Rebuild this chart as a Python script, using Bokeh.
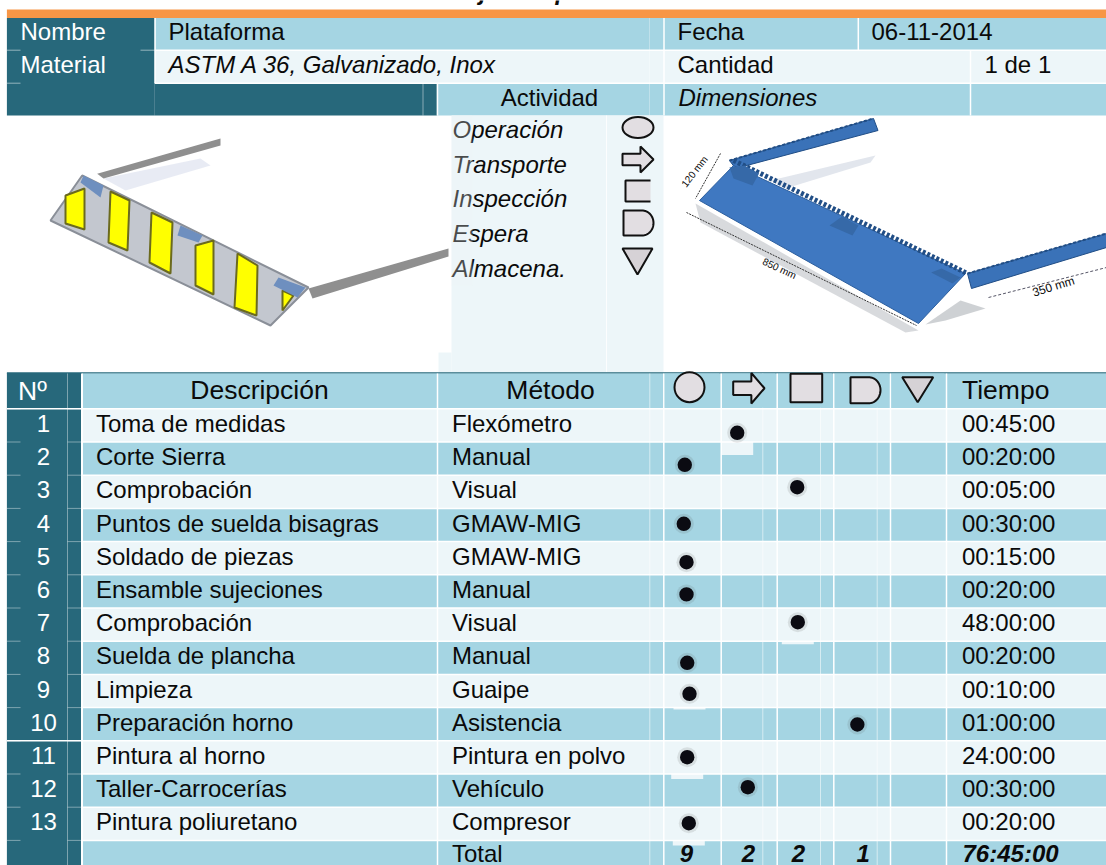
from bokeh.plotting import figure
from bokeh.models import Range1d
from bokeh.core.properties import value
from bokeh.embed import file_html
from bokeh.resources import INLINE
import math

# ---------- chart content ----------
title = "Hoja de operaciones"
head_labels = ["Nombre", "Material"]
head_values = ["Plataforma", "ASTM A 36, Galvanizado, Inox"]
head_right = ["Fecha", "Cantidad", "Dimensiones"]
head_far = ["06-11-2014", "1 de 1"]
activity_title = "Actividad"
legend_labels = ["Operación", "Transporte", "Inspección", "Espera", "Almacena."]
col_heads = ["Nº", "Descripción", "Método", "Tiempo"]
numbers = ["1", "2", "3", "4", "5", "6", "7", "8", "9", "10", "11", "12", "13"]
descriptions = ["Toma de medidas", "Corte Sierra", "Comprobación", "Puntos de suelda bisagras",
                "Soldado de piezas", "Ensamble sujeciones", "Comprobación", "Suelda de plancha",
                "Limpieza", "Preparación horno", "Pintura al horno", "Taller-Carrocerías",
                "Pintura poliuretano"]
methods = ["Flexómetro", "Manual", "Visual", "GMAW-MIG", "GMAW-MIG", "Manual", "Visual", "Manual",
           "Guaipe", "Asistencia", "Pintura en polvo", "Vehículo", "Compresor"]
times = ["00:45:00", "00:20:00", "00:05:00", "00:30:00", "00:15:00", "00:20:00", "48:00:00",
         "00:20:00", "00:10:00", "01:00:00", "24:00:00", "00:30:00", "00:20:00"]
activity = [1, 0, 2, 0, 0, 0, 2, 0, 0, 3, 0, 1, 0]
total_label = "Total"
total_counts = ["9", "2", "2", "1", ""]
total_time = "76:45:00"
dim_labels = ["120 mm", "850 mm", "350 mm"]

# ---------- layout (page pixels) ----------
DARK, LIGHT, PALE, ORANGE = "#27687B", "#A5D5E3", "#EDF6F9", "#F79646"
FONT = value("Liberation Sans")
FS = "24px"
TOP = 408.3
PITCH = 33.2
COL_EDGES = [663.3, 720.7, 776.7, 833.3, 890.0, 946.0]
FAINT = [649.3, 762.3, 820.0, 876.7]
DOT_DX = [-12, -7.7, -8.3, -8.7, -6, -6, -7.7, -5.3, -3, -4.8, -5.3, -1.4, -3.7]
DOT_DY = [7.4, 6.2, -4.6, -1.2, 4, 3, -2.4, 5, 2.8, 0.3, -0.2, -3.4, -0.6]
BLEED = [13, 0, 0, 0, 0, 0, 3, 0, 2, 0, 5, 0, 5]

p = figure(width=1106, height=865, x_range=Range1d(0, 1106), y_range=Range1d(865, 0),
           output_backend="svg", toolbar_location=None, min_border=0,
           background_fill_color="white", border_fill_color="white")
p.axis.visible = False
p.grid.visible = False
p.outline_line_color = None


def box(x0, x1, y0, y1, color, alpha=1.0):
    p.quad(left=x0, right=x1, top=y0, bottom=y1, fill_color=color, fill_alpha=alpha, line_color=None)


def poly(pts, color, alpha=1.0, line=None, lw=1):
    p.patch([a for a, _ in pts], [b for _, b in pts], fill_color=color, fill_alpha=alpha,
            line_color=line, line_width=lw)


def vline(x, y0, y1, color="white", w=1.5, alpha=1.0, dash="solid"):
    p.line([x, x], [y0, y1], line_color=color, line_width=w, line_alpha=alpha, line_dash=dash)


def hline(x0, x1, y, color="white", w=1.5, alpha=1.0):
    p.line([x0, x1], [y, y], line_color=color, line_width=w, line_alpha=alpha)


def label(x, y, s, size=FS, style="normal", color="#0A0A0A", align="left", angle=0.0):
    p.text(x=[x - 1], y=[y - 1], text=[s], text_font=FONT, text_font_size=value(size),
           text_font_style=style, text_color=color, text_align=align,
           text_baseline="middle", angle=angle)


# ---------- title + orange band ----------
p.text(x=[447], y=[-9], text=[title], text_font=FONT, text_font_size=value("24px"),
       text_font_style="bold italic", text_color="#0A0A0A", text_baseline="alphabetic")
box(6.4, 1106, 9, 17.5, ORANGE)

# ---------- top block ----------
box(6.4, 154.3, 17.5, 115, DARK)
box(154.3, 436.4, 82.7, 115, DARK)
box(154.3, 1106, 17.5, 49.7, LIGHT)
box(154.3, 1106, 49.7, 82.7, PALE)
box(436.4, 1106, 82.7, 115, LIGHT)
hline(154.3, 1106, 49.7)
hline(154.3, 1106, 82.7)
hline(6.4, 20, 49.7, w=1, alpha=.5)
hline(6.4, 20, 82.7, w=1, alpha=.5)
hline(140, 154.3, 49.7, w=1, alpha=.5)
vline(154.6, 17.5, 82.7)
vline(437, 82.7, 115)
vline(422.5, 82.7, 115, w=1, alpha=.45)
vline(649, 17.5, 115, w=1, alpha=.3)
vline(663.5, 17.5, 115)
vline(857.8, 17.5, 49.7)
vline(970, 49.7, 115)
label(21, 32, head_labels[0], color="white")
label(21, 64.5, head_labels[1], color="white")
label(169, 32, head_values[0])
label(169, 64.5, head_values[1], style="italic")
label(678, 32, head_right[0])
label(678, 64.5, head_right[1])
label(679, 97.5, head_right[2], style="italic")
label(872, 32, head_far[0])
label(985, 64.5, head_far[1])
label(550, 97.5, activity_title, align="center")

# ---------- legend column ----------
box(451, 663, 115, 372, PALE)
box(438, 451, 352, 372, PALE)
vline(606, 115, 372, w=1, alpha=.8)
for i, txt in enumerate(legend_labels):
    label(453, [130, 165, 199, 234, 269][i], txt, style="italic")
box(451, 472, 115, 285, "#EDF6F9", .28)


def icon_circle(cx, cy, rx, ry):
    p.ellipse(x=[cx], y=[cy], width=[2 * rx], height=[2 * ry], fill_color="#E2DEE2",
              line_color="#111111", line_width=2)


def icon_arrow(x0, x1, y0, y1):
    my, h, s = (y0 + y1) / 2, (y1 - y0), x0 + (x1 - x0) * .58
    poly([(x0, my - h * .22), (s, my - h * .22), (s, y0), (x1, my), (s, y1), (s, my + h * .22),
          (x0, my + h * .22)], "#E2DEE2", line="#111111", lw=2)


def icon_d(x0, x1, y0, y1):
    r = (y1 - y0) / 2
    pts = [(x0, y0), (x1 - r * .9, y0)]
    pts += [(x1 - r * .9 + r * .9 * math.cos(a / 10), (y0 + y1) / 2 + r * math.sin(a / 10))
            for a in range(-15, 16)]
    pts += [(x1 - r * .9, y1), (x0, y1)]
    poly(pts, "#E2DEE2", line="#111111", lw=2)


def icon_tri(x0, x1, y0, y1):
    poly([(x0, y0), (x1, y0), ((x0 + x1) / 2, y1)], "#D6D2D6", line="#111111", lw=2)


icon_circle(637.5, 127, 15.5, 10.5)
icon_arrow(622, 653, 146, 172)
box(625, 650, 180, 201, "#E2DEE2")
p.line([650, 625, 625, 650], [180, 180, 201, 201], line_color="#111111", line_width=2)
icon_d(623, 653, 210, 235)
icon_tri(622, 652, 248, 274)

# ---------- left illustration (yellow panel) ----------
poly([(103, 178), (200, 158), (210, 165), (125, 190)], "#D8DEEC", .6)
poly([(96.7, 173.3), (220, 138), (220, 145), (103, 178)], "#8F8F8F")
poly([(50, 220), (81.7, 175), (308, 287), (270, 325)], "#C3C7CF", line="#8A8F98", lw=2)
Y = "#FFFF00"
E = "#6B6A1E"
for s in [[(65, 195), (84, 188), (84, 229), (65, 223)],
          [(110, 191), (129, 200), (127, 250), (108, 242)],
          [(151, 212), (172, 222), (170, 273), (149, 262)],
          [(195, 245), (213, 240), (213, 294), (195, 285)],
          [(237, 253), (257, 265), (256, 315), (234, 307)],
          [(282, 290), (293, 295), (282, 310)]]:
    poly(s, Y, line=E, lw=2)
for s in [[(80, 182), (83, 175), (103, 185), (100, 197)],
          [(177, 235), (180, 225), (202, 235), (198, 242)],
          [(273, 285), (278, 277), (305, 287), (297, 297)]]:
    poly(s, "#6E8FBF")
poly([(308, 288), (448, 248), (448, 256), (312, 298)], "#8F8F8F")

# ---------- right illustration (blue panel) ----------
poly([(695, 203), (918, 330), (905, 332), (700, 222)], "#9EA3AA", .4)
poly([(925, 324), (960, 300), (985, 308), (945, 320)], "#9EA3AA", .5)
poly([(770, 180), (875, 155), (870, 162), (785, 188)], "#C6CEDB", .5)
poly([(729, 160), (873, 118), (877.5, 130), (735, 168)], "#3A72B8", line="#214E86")
poly([(733, 165), (965, 273), (918, 323), (699, 200)], "#3F78C1", line="#2B5E9E")
p.line([733, 967], [160, 273], line_color="#214E86", line_width=5, line_dash="3 2")
poly([(729, 167), (744, 165), (758.6, 173), (752, 185), (733, 178)], "#3669A8")
poly([(829, 225), (841.5, 216), (858, 225), (852, 235)], "#3669A8")
poly([(930.6, 272), (941, 268), (960, 277), (952, 283)], "#3669A8")
poly([(967, 273), (1106, 233), (1106, 247), (971, 288)], "#3A72B8", line="#214E86")
p.line([729, 873], [160, 118], line_color="#214E86", line_width=2, line_dash="3 2")
p.line([967, 1106], [273, 233], line_color="#214E86", line_width=2, line_dash="3 2")
p.line([686, 916], [212, 325], line_color="#333333", line_width=1, line_dash="2 1")
p.line([720, 695], [153, 198], line_color="#333333", line_width=1, line_dash="2 1")
p.line([988, 1106], [297, 267], line_color="#555566", line_width=1, line_dash="3 2")
label(695, 172, dim_labels[0], size="10px", align="center", angle=math.radians(52))
label(780, 269, dim_labels[1], size="10px", align="center", angle=math.radians(-25))
label(1054, 287, dim_labels[2], size="12px", align="center", angle=math.radians(17))

# ---------- table ----------
box(6.4, 81.7, 372.5, 865, DARK)
hline(6.4, 1106, 372.5, color=DARK, w=1.5)
box(81.7, 1106, 373, TOP, LIGHT)
n = len(numbers)
for i in range(n + 1):
    y0 = TOP + PITCH * i
    y1 = min(y0 + PITCH, 865)
    box(81.7, 1106, y0, y1, (PALE if i % 2 == 0 else LIGHT))

# patches left over round each pasted dot
for i, c in enumerate(activity):
    if BLEED[i]:
        cx = (COL_EDGES[c] + COL_EDGES[c + 1]) / 2 + DOT_DX[i]
        bottom = TOP + PITCH * (i + 1)
        box(cx - 16, cx + 16, bottom, bottom + BLEED[i], PALE)

for e in COL_EDGES:
    vline(e, 373, 865)
for e in FAINT:
    vline(e, 373, 865, w=1, alpha=.55)
vline(81.5, 373, 865, w=2)
vline(437, 373, 865, w=1.5)
vline(67, 373, 865, w=1, alpha=.4)
for i in range(n + 1):
    y = TOP + PITCH * i
    hline(81.7, 1106, y)
    hline(6.4, 20, y, w=1, alpha=.4)
    hline(67, 81.7, y, w=1, alpha=.4)
hline(6.4, 81.7, TOP)
hline(6.4, 81.7, TOP + PITCH * 10)

# header icons
for c in range(5):
    box(COL_EDGES[c] + 1, COL_EDGES[c + 1] - 2, 373, TOP - 1, LIGHT)
icon_circle(689, 386.7, 15, 15)
icon_arrow(732.7, 764, 372.5, 403)
poly([(790, 373.3), (821.7, 373.3), (821.7, 401.7), (790, 401.7)], "#E2DEE2", line="#111111", lw=2)
icon_d(850, 880, 376.7, 402.7)
icon_tri(901.7, 932.7, 376.7, 401.7)

label(33, 391, col_heads[0], size="26.5px", color="white", align="center")
label(260, 390.5, col_heads[1], size="26.5px", align="center")
label(551, 390.5, col_heads[2], size="26.5px", align="center")
label(962.5, 390.5, col_heads[3], size="26.5px")

for i in range(n):
    y = TOP + PITCH * (i + .5) - 1
    label(44, y, numbers[i], color="white", align="center")
    label(96.5, y, descriptions[i])
    label(452.5, y, methods[i])
    label(962.5, y, times[i])
    c = activity[i]
    cx = (COL_EDGES[c] + COL_EDGES[c + 1]) / 2 + DOT_DX[i]
    cy = TOP + PITCH * (i + .5) + DOT_DY[i]
    p.circle(x=[cx], y=[cy], radius=[10], fill_color="#555555", fill_alpha=.14, line_color=None)
    p.circle(x=[cx], y=[cy], radius=[7.2], fill_color="#0B0B12", line_color=None)

ty = TOP + PITCH * (n + .5) - 2.5
label(452.5, ty, total_label)
for c, s in enumerate(total_counts):
    label([687, 749, 799, 863.7, 918][c], ty, s, style="bold italic", align="center")
label(963, ty, total_time, style="bold italic")

open("out.html", "w").write(file_html(p, INLINE))
